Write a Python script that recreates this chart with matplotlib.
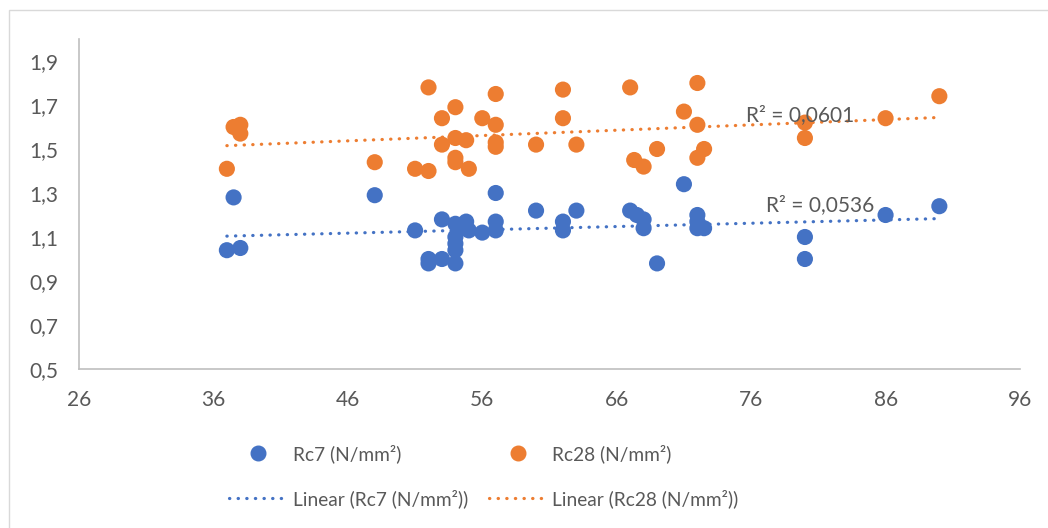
import numpy as np
import matplotlib.pyplot as plt
from matplotlib.ticker import FuncFormatter, FixedLocator
from matplotlib.lines import Line2D
from matplotlib.patches import Rectangle

# Rc7 series (blue)
x_rc7 = [37, 37.5, 38, 48, 51, 52, 52, 53, 53, 54, 54, 54, 54, 54, 54.8, 55, 56,
         57, 57, 57, 60, 62, 62, 63, 67, 67.5, 68, 68, 69, 71, 72, 72, 72, 72.5,
         80, 80, 86, 90]
y_rc7 = [1.04, 1.28, 1.05, 1.29, 1.13, 1.00, 0.98, 1.18, 1.00, 1.16, 1.10, 1.07, 1.04, 0.98, 1.17, 1.13, 1.12,
         1.30, 1.17, 1.13, 1.22, 1.17, 1.13, 1.22, 1.22, 1.20, 1.18, 1.14, 0.98, 1.34, 1.20, 1.17, 1.14, 1.14,
         1.10, 1.00, 1.20, 1.24]

# Rc28 series (orange)
x_rc28 = [37, 37.5, 38, 38, 48, 51, 52, 52, 53, 53, 54, 54, 54, 54, 54.8, 55, 56,
          57, 57, 57, 57, 60, 62, 62, 63, 67, 67.3, 68, 69, 71, 72, 72, 72, 72.5,
          80, 80, 86, 90]
y_rc28 = [1.41, 1.60, 1.61, 1.57, 1.44, 1.41, 1.78, 1.40, 1.64, 1.52, 1.69, 1.55, 1.46, 1.44, 1.54, 1.41, 1.64,
          1.75, 1.61, 1.53, 1.51, 1.52, 1.77, 1.64, 1.52, 1.78, 1.45, 1.42, 1.50, 1.67, 1.80, 1.61, 1.46, 1.50,
          1.62, 1.55, 1.64, 1.74]

r2_labels = ["R² = 0,0536", "R² = 0,0601"]
series_names = ["Rc7 (N/mm²)", "Rc28 (N/mm²)"]

BLUE = "#4472C4"
ORANGE = "#ED7D31"
GREY = "#595959"


def comma(v, pos):
	return ("%.1f" % v).replace(".", ",")


def trend(ax, x, y, color):
	# least squares line, like the excel trendline
	k, b = np.polyfit(x, y, 1)
	xs = np.array([min(x), max(x)])
	ax.plot(xs, k * xs + b, color=color, linewidth=2.3, linestyle=(0, (0.1, 2.6)),
			dash_capstyle="round", zorder=3)


def main():
	plt.rcParams['font.family'] = ['Lato', 'DejaVu Sans']
	fig = plt.figure(figsize=(10.48, 5.28), dpi=100)
	fig.patches.append(Rectangle((9 / 1048, -0.1), 1.2, 1.1 - 10 / 528, transform=fig.transFigure,
								 fill=False, edgecolor="#D9D9D9", linewidth=1))

	ax = fig.add_axes([79 / 1048, 1 - 369 / 528, (1020 - 79) / 1048, (369 - 39) / 528])

	ax.scatter(x_rc7, y_rc7, s=135, color=BLUE, edgecolors="none", zorder=4)
	ax.scatter(x_rc28, y_rc28, s=135, color=ORANGE, edgecolors="none", zorder=4)
	trend(ax, x_rc7, y_rc7, BLUE)
	trend(ax, x_rc28, y_rc28, ORANGE)

	ax.text(77.1, 1.245, r2_labels[0], fontsize=15, color=GREY, ha="left", va="center", zorder=5)
	ax.text(75.6, 1.655, r2_labels[1], fontsize=15, color=GREY, ha="left", va="center", zorder=5)

	ax.set_xlim(26, 96)
	ax.set_ylim(0.5, 2.0)
	ax.xaxis.set_major_locator(FixedLocator(np.arange(26, 97, 10)))
	ax.yaxis.set_major_locator(FixedLocator(np.arange(0.5, 1.95, 0.2)))
	ax.yaxis.set_major_formatter(FuncFormatter(comma))
	ax.tick_params(length=0, labelsize=15, colors=GREY, pad=15)

	for s in ["top", "right"]:
		ax.spines[s].set_visible(False)
	for s in ["left", "bottom"]:
		ax.spines[s].set_color("#BFBFBF")
		ax.spines[s].set_linewidth(1.2)

	handles = [
		Line2D([], [], marker="o", linestyle="none", markersize=10.5, color=BLUE),
		Line2D([], [], color=BLUE, linewidth=2.3, linestyle=(0, (0.1, 2.6)), dash_capstyle="round"),
		Line2D([], [], marker="o", linestyle="none", markersize=10.5, color=ORANGE),
		Line2D([], [], color=ORANGE, linewidth=2.3, linestyle=(0, (0.1, 2.6)), dash_capstyle="round"),
	]
	labels = [series_names[0], "Linear (" + series_names[0] + ")",
			  series_names[1], "Linear (" + series_names[1] + ")"]
	leg = fig.legend(handles, labels, ncol=2, loc="center", bbox_to_anchor=(484 / 1048, 1 - 476 / 528),
					 frameon=False, fontsize=13.8, handlelength=3.0, handletextpad=0.3,
					 columnspacing=1.1, labelspacing=1.35)
	for t in leg.get_texts():
		t.set_color(GREY)

	fig.savefig("out.png", dpi=100)


if __name__ == "__main__":
	main()
